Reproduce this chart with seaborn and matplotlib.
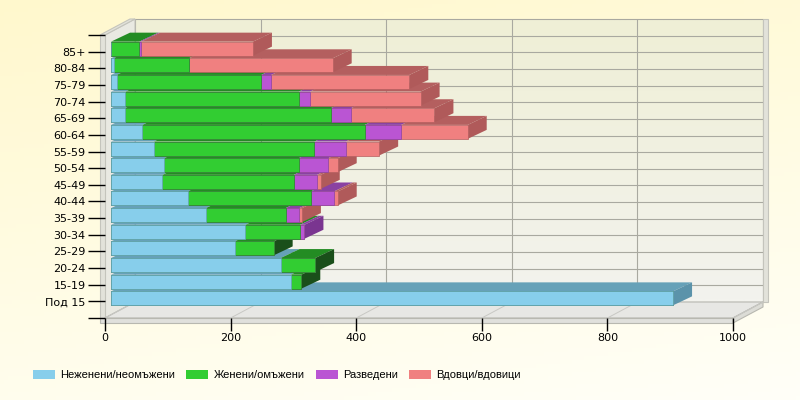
import matplotlib
matplotlib.use("Agg")
import matplotlib.pyplot as plt
from matplotlib.patches import Polygon, Patch
import numpy as np
import pandas as pd
import seaborn as sns

# Data, top row first
ages = ['85+', '80-84', '75-79', '70-74', '65-69', '60-64', '55-59', '50-54',
        '45-49', '40-44', '35-39', '30-34', '25-29', '20-24', '15-19', 'Под 15']
single = [0, 4, 9, 23, 22, 50, 68, 85, 82, 122, 151, 214, 197, 270, 286, 895]
married = [45, 120, 230, 276, 328, 354, 256, 214, 209, 196, 127, 87, 62, 55, 17, 0]
divorced = [3, 0, 16, 18, 32, 58, 50, 47, 37, 37, 22, 7, 0, 0, 0, 0]
widowed = [178, 229, 220, 176, 133, 106, 53, 15, 6, 6, 4, 0, 0, 0, 0, 0]

labels = ['Неженени/неомъжени', 'Женени/омъжени', 'Разведени', 'Вдовци/вдовици']
front_cols = ['#87CEEB', '#32CD32', '#BA55D3', '#F08080']
top_cols = ['#66A1B8', '#238C23', '#8A42A2', '#B45F5F']
side_cols = ['#5B93AA', '#1A4F1A', '#7A3590', '#B05A5A']

df = pd.DataFrame({'age': ages, 's0': single, 's1': married, 's2': divorced, 's3': widowed})
series = ['s0', 's1', 's2', 's3']
cum = df[series].cumsum(axis=1)

sns.set_style('white')
plt.rcParams['font.family'] = ['DejaVu Sans']
plt.rcParams['text.color'] = 'black'

fig = plt.figure(figsize=(8, 4), dpi=100)

# background gradient
bg = fig.add_axes([0, 0, 1, 1], zorder=-10)
yy, xx = np.mgrid[0:1:100j, 0:1:200j]
t = np.clip(0.75 * yy + 0.25 * xx, 0, 1)
c_top = np.array([255, 248, 205]) / 255
c_bot = np.array([255, 255, 248]) / 255
img = c_top[None, None, :] * (1 - t[..., None]) + c_bot[None, None, :] * t[..., None]
bg.imshow(img, aspect='auto', extent=(0, 1, 0, 1))
bg.axis('off')

n = len(ages)
W, H = 800, 400
ylo, yhi = -1, n          # axis range in row units
# axes in the plane of the bar front faces
ax = fig.add_axes([111 / W, (H - 315) / H, 628 / W, 283 / H])
ax.patch.set_alpha(0)
ux = 1000 / 628.0
uy = (yhi - ylo) / 283.0
fx, fy = -6 * ux, 3 * uy       # front plane of walls
bx, by = 24 * ux, -13 * uy     # back plane of walls
ddx, ddy = 19 * ux, -9 * uy    # bar depth
th = 5                         # slab thickness, px

# back wall
wall = np.linspace(0, 1, 50)[:, None]
wc_top = np.array([239, 239, 214]) / 255
wc_bot = np.array([243, 243, 238]) / 255
wimg = wc_top[None, :] * (1 - wall[..., None]) + wc_bot[None, :] * wall[..., None]
wimg = np.repeat(wimg, 2, axis=1)
ax.imshow(wimg, aspect='auto', extent=(bx, 1000 + bx, yhi + by, ylo + by),
          zorder=1, clip_on=False, interpolation='bilinear')
grid_kw = dict(color='#A9A9A0', lw=0.8, zorder=1.5, clip_on=False)
for gx in range(0, 1001, 200):
    ax.plot([gx + bx, gx + bx], [ylo + by, yhi + by], **grid_kw)
for gy in range(ylo, yhi + 1):
    ax.plot([bx, 1000 + bx], [gy + by, gy + by], **grid_kw)

# left wall and floor
wk = dict(closed=True, lw=0.8, zorder=2, clip_on=False)
ax.add_patch(Polygon([(fx, ylo + fy), (fx, yhi + fy), (bx, yhi + by), (bx, ylo + by)],
                     fc='#E9E9E2', ec='#C4C4BC', **wk))
ax.add_patch(Polygon([(fx - th * ux, ylo + fy), (fx, ylo + fy), (fx, yhi + fy), (fx - th * ux, yhi + fy)],
                     fc='#E2E2DA', ec='#C4C4BC', **wk))
ax.add_patch(Polygon([(fx - th * ux, ylo + fy), (bx - th * ux, ylo + by), (bx, ylo + by), (fx, ylo + fy)],
                     fc='#E2E2DA', ec='#C4C4BC', **wk))
ax.add_patch(Polygon([(fx, yhi + fy), (1000 + fx, yhi + fy), (1000 + bx, yhi + by), (bx, yhi + by)],
                     fc='#E7E7E4', ec='#B8B8B0', **wk))
ax.add_patch(Polygon([(fx - th * ux, yhi + fy), (1000 + fx, yhi + fy), (1000 + fx, yhi + fy + th * uy),
                      (fx - th * ux, yhi + fy + th * uy)],
                     fc='#E0E0DC', ec='#B8B8B0', **wk))
ax.add_patch(Polygon([(1000 + fx, yhi + fy), (1000 + bx, yhi + by), (1000 + bx, yhi + by + th * uy),
                      (1000 + fx, yhi + fy + th * uy)],
                     fc='#DCDCD6', ec='#B8B8B0', **wk))
ax.add_patch(Polygon([(1000 + bx, ylo + by), (1000 + bx + th * ux, ylo + by),
                      (1000 + bx + th * ux, yhi + by), (1000 + bx, yhi + by)],
                     fc='#E2E2DA', ec='#C4C4BC', **wk))
for gx in range(0, 1001, 200):
    ax.plot([gx + fx, gx + bx], [yhi + fy, yhi + by], color='#C8C8C4', lw=0.7, zorder=2.1, clip_on=False)

# bars: cumulative totals drawn longest first, then layered per row
bar_h = 0.84
for k in range(3, -1, -1):
    sns.barplot(x=cum[series[k]].values, y=ages, order=ages, color=front_cols[k],
                width=bar_h, ax=ax, edgecolor=top_cols[k], linewidth=0.5)
    for i, bar in enumerate(ax.containers[-1]):
        bar.set_zorder(10 + (n - i) + 0.5 + 0.1 * (3 - k))
        bar.set_facecolor(front_cols[k])

for i in range(n):
    base = 10 + (n - i)
    yt = i - bar_h / 2
    yb = i + bar_h / 2
    left = 0
    last = None
    for k, s in enumerate(series):
        v = df[s].iloc[i]
        if v <= 0:
            continue
        right = left + v
        ax.add_patch(Polygon([(left, yt), (right, yt), (right + ddx, yt + ddy), (left + ddx, yt + ddy)],
                             closed=True, fc=top_cols[k], ec='none', zorder=base + 0.1))
        left = right
        last = k
    if last is not None:
        ax.add_patch(Polygon([(left, yt), (left, yb), (left + ddx, yb + ddy), (left + ddx, yt + ddy)],
                             closed=True, fc=side_cols[last], ec='none', zorder=base + 0.2))

ax.set_xlim(0, 1000)
ax.set_ylim(yhi, ylo)
ax.set_xticks([])
ax.set_yticks([])
ax.set_xlabel('')
ax.set_ylabel('')
for sp in ax.spines.values():
    sp.set_visible(False)

# front plane axis with the ticks
axf = fig.add_axes([105 / W, (H - 318) / H, 628 / W, 283 / H])
axf.patch.set_alpha(0)
axf.set_xlim(0, 1000)
axf.set_ylim(yhi, ylo)
for sp in axf.spines.values():
    sp.set_visible(False)
axf.set_xticks(range(0, 1001, 200))
axf.set_xticklabels([str(v) for v in range(0, 1001, 200)], fontsize=8, color='black')
axf.set_yticks(range(ylo, yhi + 1))
axf.set_yticklabels([''] + ages + [''], fontsize=8, color='black')
axf.tick_params(axis='x', bottom=True, direction='out', length=9, width=1, color='black', pad=2)
axf.tick_params(axis='y', left=True, direction='out', length=12, width=1, color='black', pad=2)

handles = [Patch(facecolor=c, edgecolor='none') for c in front_cols]
fig.legend(handles, labels, loc='center left', bbox_to_anchor=(23 / W, 1 - 375 / H), ncol=4,
           frameon=False, prop={'family': ['Liberation Sans', 'DejaVu Sans'], 'size': 8},
           handlelength=2.0, handleheight=0.9, handletextpad=0.45, columnspacing=1.0,
           labelcolor='black')

fig.savefig('out.png', dpi=100)
